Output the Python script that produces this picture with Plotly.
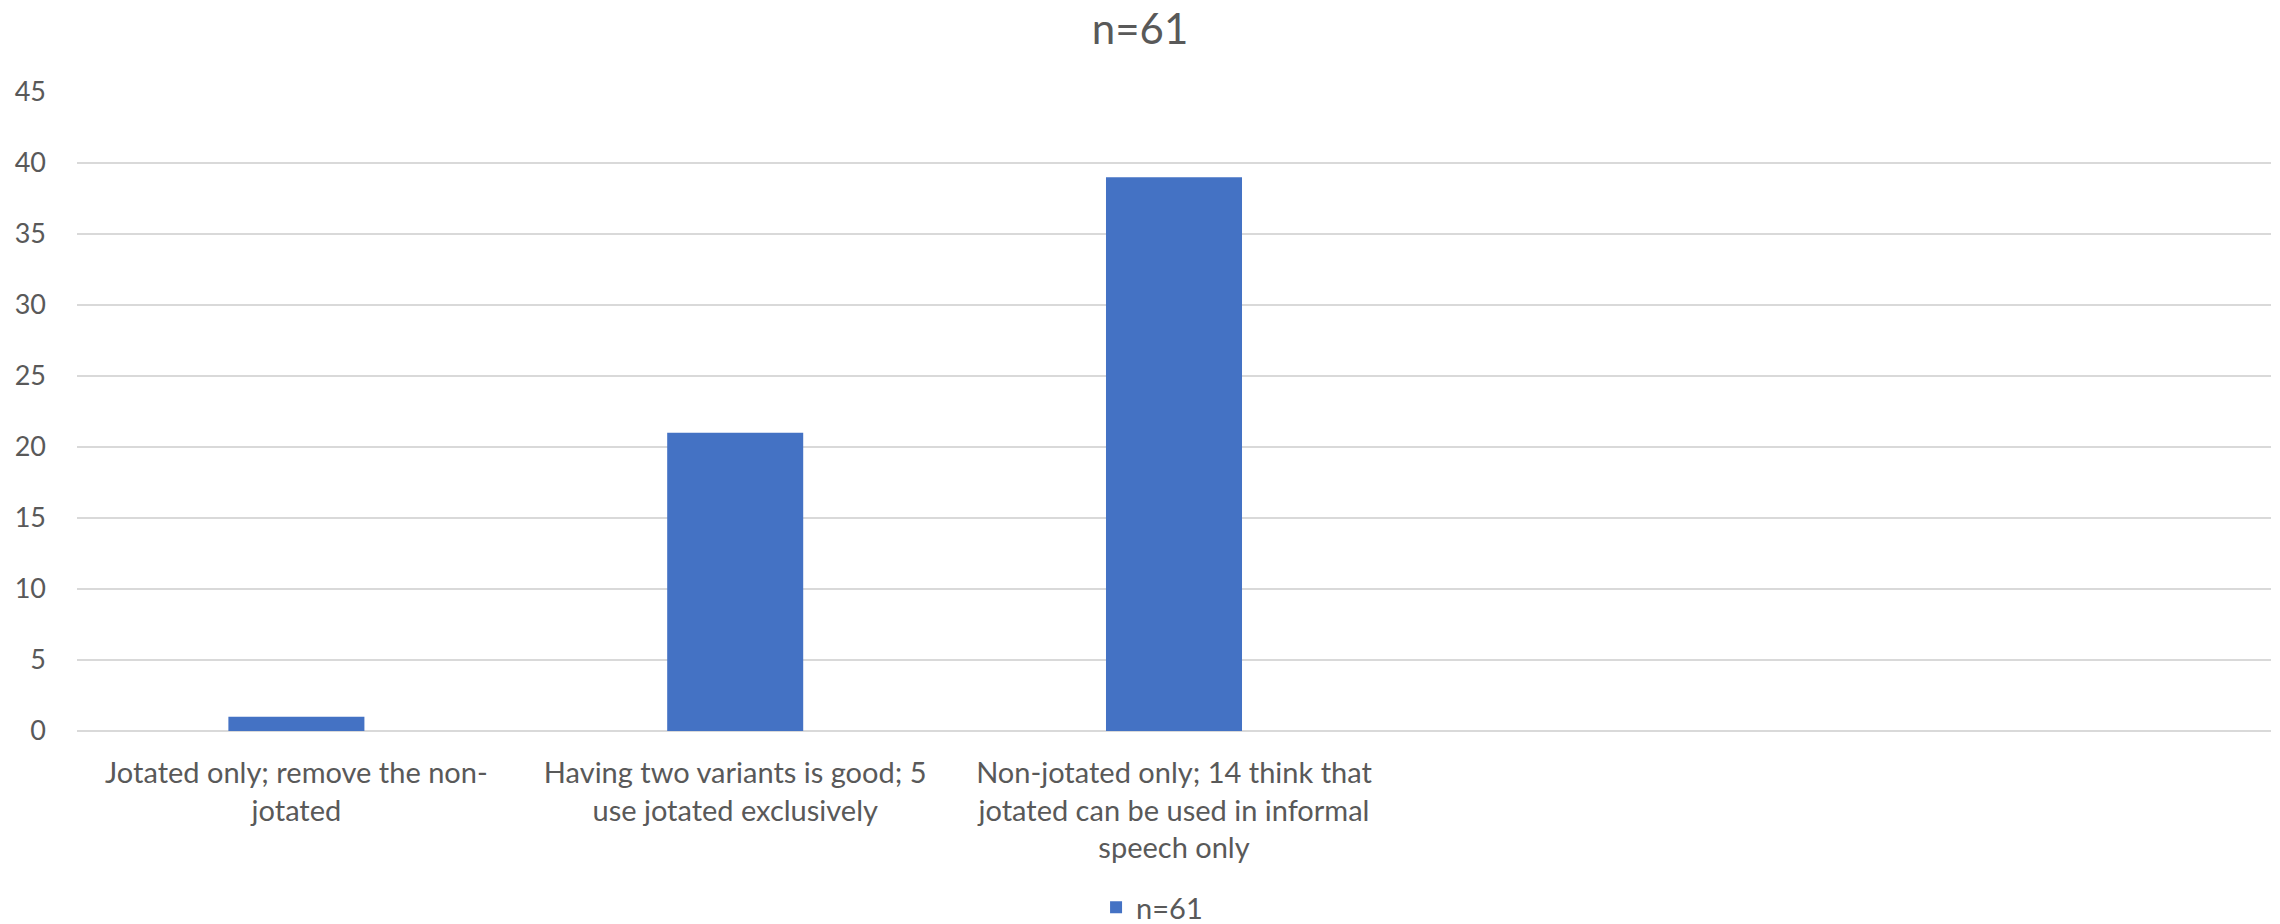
import plotly.graph_objects as go

# Survey responses (n=61)
categories = [
    "Jotated only; remove the non-<br>jotated",
    "Having two variants is good; 5<br>use jotated exclusively",
    "Non-jotated only; 14 think that<br>jotated can be used in informal<br>speech only",
    " ",
    "  ",
]
counts = [1, 21, 39, None, None]
series_name = "n=61"
y_ticks = [0, 5, 10, 15, 20, 25, 30, 35, 40, 45]

text_color = "#595959"
bar_color = "#4472C4"
grid_color = "#D9D9D9"
font_family = "Lato, Carlito, Calibri, sans-serif"

fig = go.Figure()
fig.add_trace(go.Bar(
    x=categories,
    y=counts,
    name=series_name,
    marker=dict(color=bar_color, line=dict(width=0)),
    width=0.31,
    showlegend=True,
))

fig.update_layout(
    width=2280,
    height=924,
    paper_bgcolor="white",
    plot_bgcolor="white",
    margin=dict(l=77, r=9, t=92, b=193, autoexpand=False),
    font=dict(family=font_family, color=text_color, size=29),
    title=dict(
        text="n=61",
        x=0.5,
        xanchor="center",
        y=1 - 29 / 924,
        yanchor="middle",
        font=dict(size=42, color=text_color, family=font_family),
    ),
    xaxis=dict(
        type="category",
        automargin=False,
        showgrid=False,
        showline=False,
        ticks="",
        tickfont=dict(size=29, color=text_color),
        ticklabelstandoff=22,
    ),
    yaxis=dict(
        range=[0, 45],
        tickvals=y_ticks,
        automargin=False,
        showgrid=True,
        gridcolor=grid_color,
        gridwidth=1.5,
        zeroline=True,
        zerolinecolor=grid_color,
        zerolinewidth=1.5,
        showline=False,
        ticks="",
        tickfont=dict(size=27, color=text_color),
        ticklabelstandoff=30,
    ),
    legend=dict(
        orientation="h",
        x=0.49,
        xanchor="center",
        y=-0.276,
        yanchor="middle",
        font=dict(size=29, color=text_color),
        itemwidth=30,
    ),
    bargap=0.69,
)

fig.write_html("out.html")
